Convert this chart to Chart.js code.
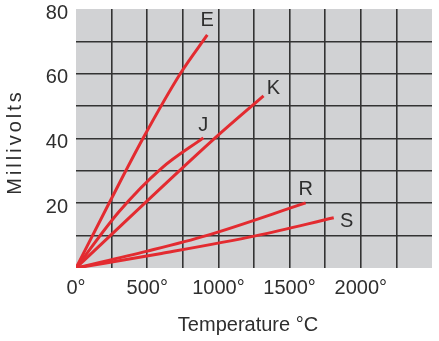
<!DOCTYPE html>
<html><head><meta charset="utf-8">
<script src="https://cdn.jsdelivr.net/npm/chart.js@4/dist/chart.umd.min.js"></script>
<style>html,body{margin:0;padding:0;background:#fff}#w{width:439px;height:341px}</style>
</head><body><div id="w"><canvas id="c"></canvas></div>
<script>
// Data (temperature °C, millivolts)
const seriesNames = ['E', 'J', 'K', 'R', 'S'];
const eTemp = [0, 232, 470, 732, 922];
const eMv   = [0, 20, 40, 60, 72];
const jTemp = [0, 300, 600, 894];
const jMv   = [0, 17.3, 30.8, 40.2];
const kTemp = [0, 985, 1317];
const kMv   = [0, 40.5, 53.2];
const rTemp = [0, 500, 915, 1613];
const rMv   = [0, 5.2, 10, 20.1];
const sTemp = [0, 600, 1268, 1810];
const sMv   = [0, 4.5, 10, 15.5];
const xTickLabels = ['0°', '500°', '1000°', '1500°', '2000°'];
const yTickLabels = ['20', '40', '60', '80'];
const xTitle = 'Temperature °C';
const yTitle = 'Millivolts';

const toPts = (xs, ys) => xs.map((x, i) => ({x, y: ys[i]}));
const series = [[eTemp, eMv], [jTemp, jMv], [kTemp, kMv], [rTemp, rMv], [sTemp, sMv]];

const labelOffsets = {E: [0, -14], J: [0, -12], K: [10, -7], R: [0, -13], S: [13, 4]};
const textColor = '#2e2e2e';
const fam = '"Liberation Sans", Arial, sans-serif';

const bgPlugin = {
  id: 'bg',
  beforeDraw(chart) {
    const {ctx, chartArea: a} = chart;
    ctx.save();
    ctx.fillStyle = '#d1d2d4';
    ctx.fillRect(a.left, a.top, a.right - a.left, a.bottom - a.top);
    ctx.restore();
  }
};
const labelPlugin = {
  id: 'lbl',
  afterDatasetsDraw(chart) {
    const ctx = chart.ctx;
    ctx.save();
    ctx.font = '20px ' + fam;
    ctx.fillStyle = textColor;
    ctx.textAlign = 'center';
    ctx.textBaseline = 'middle';
    chart.data.datasets.forEach((ds, i) => {
      const meta = chart.getDatasetMeta(i);
      const p = meta.data[meta.data.length - 1];
      const o = labelOffsets[ds.label];
      ctx.fillText(ds.label, p.x + o[0], p.y + o[1]);
    });
    const a = chart.chartArea;
    // x axis title
    ctx.fillText(xTitle, (a.left + a.right) / 2 - 6, 325);
    // y axis title, slightly letter-spaced as in the original
    ctx.translate(15.5, (a.top + a.bottom) / 2 + 5);
    ctx.rotate(-Math.PI / 2);
    ctx.letterSpacing = '3px';
    ctx.fillText(yTitle, 1.5, 0);
    ctx.restore();
  }
};

const font = {family: fam, size: 20};
const yFont = {family: fam, size: 20, lineHeight: 0.4};
const edgeColor = (ctx, min, max) => (ctx.tick && (ctx.tick.value === min || ctx.tick.value === max)) ? 'rgba(0,0,0,0)' : '#333';

new Chart(document.getElementById('c'), {
  type: 'line',
  data: {
    datasets: series.map((s, i) => ({
      label: seriesNames[i],
      data: toPts(s[0], s[1]),
      borderColor: '#e32b30',
      borderWidth: 3,
      pointRadius: 0,
      cubicInterpolationMode: 'monotone',
      fill: false
    }))
  },
  options: {
    responsive: true,
    maintainAspectRatio: false,
    animation: false,
    layout: {padding: {top: 9, right: 7, left: 0, bottom: 0}},
    plugins: {legend: {display: false}, tooltip: {enabled: false}},
    scales: {
      x: {
        type: 'linear', min: 0, max: 2500,
        border: {display: false},
        grid: {color: c => edgeColor(c, 0, 2500), lineWidth: 1.6, drawTicks: false},
        ticks: {
          stepSize: 250, padding: 8, color: textColor, font, maxRotation: 0, autoSkip: false,
          callback: v => (v % 500 === 0 && v <= 2000) ? xTickLabels[v / 500] : ''
        },
        title: {display: false},
        afterFit: s => { s.height = 73; s.paddingLeft = 0; s.paddingRight = 0; }
      },
      y: {
        min: 0, max: 80,
        border: {display: false},
        grid: {color: c => edgeColor(c, 0, 80), lineWidth: 1.6, drawTicks: false},
        ticks: {
          stepSize: 10, padding: 8, color: textColor, font: yFont, autoSkip: false,
          callback: v => (v % 20 === 0 && v > 0) ? ['', yTickLabels[v / 20 - 1]] : ''
        },
        title: {display: false},
        afterFit: s => { s.width = 76; s.paddingTop = 0; s.paddingBottom = 0; }
      }
    }
  },
  plugins: [bgPlugin, labelPlugin]
});
</script></body></html>
